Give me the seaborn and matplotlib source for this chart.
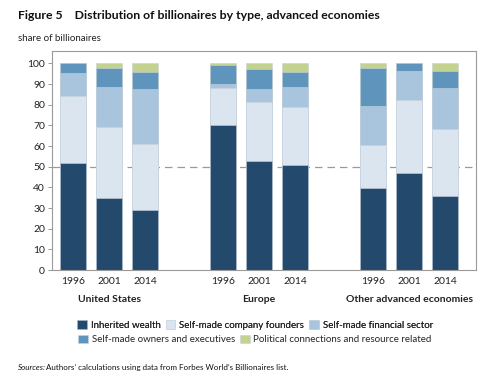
import seaborn as sns
import matplotlib.pyplot as plt
import numpy as np
import pandas as pd

# data (shares, percent)
groups = ["United States", "Europe", "Other advanced economies"]
years = ["1996", "2001", "2014"]
categories = ["Inherited wealth", "Self-made company founders", "Self-made financial sector",
              "Self-made owners and executives", "Political connections and resource related"]
inherited = [52, 35, 29, 70, 53, 51, 39.5, 47, 35.7]
founders = [32, 34, 32, 18, 28.5, 27.7, 21, 35.3, 32.6]
financial = [11.5, 19.5, 26.6, 2, 6.3, 9.8, 19, 13.8, 19.6]
owners = [4.5, 9.5, 8.2, 9, 9.3, 7.1, 18.5, 3.9, 8.6]
political = [0, 2, 4.2, 1, 2.9, 4.4, 2, 0, 3.5]

colors = ["#23496d", "#dae5ef", "#a8c5dd", "#5f95bd", "#c3d28e"]

sns.set_style("white")
plt.rcParams["font.family"] = ["Lato", "DejaVu Sans"]

# bar positions: 3 bars per group, gap between groups
pos = [g * 4.1667 + j for g in range(len(groups)) for j in range(len(years))]
series = [inherited, founders, financial, owners, political]
cum = np.cumsum(np.array(series), axis=0)

fig = plt.figure(figsize=(5, 3.75), dpi=100)
ax = fig.add_axes([0.104, 0.28, 0.848, 0.584])

ax.axhline(50, color="#9a9a9a", lw=0.9, ls=(0, (6, 4)), zorder=0.5)

# stacked bars: draw cumulative totals from top category down
for k in range(len(categories) - 1, -1, -1):
    df = pd.DataFrame({"x": pos, "y": cum[k]})
    sns.barplot(data=df, x="x", y="y", native_scale=True, width=0.72,
                color=colors[k], saturation=1, errorbar=None,
                edgecolor="#c8d2dc", linewidth=0.4, ax=ax, zorder=2)

ax.set_xlim(-0.583, 11.19)
ax.set_ylim(0, 106)
ax.set_yticks(range(0, 101, 10))
ax.set_xticks(pos)
ax.set_xticklabels(years * len(groups))
ax.set_xlabel("")
ax.set_ylabel("")
ax.tick_params(axis="x", length=0, labelsize=7.5, pad=5, colors="#222222")
ax.tick_params(axis="y", length=3, width=0.6, labelsize=7.5, pad=2,
               colors="#222222", left=True, direction="out", color="#888888")
for s in ax.spines.values():
    s.set_color("#9a9a9a")
    s.set_linewidth(0.8)

for g, name in enumerate(groups):
    ax.text(g * 4.1667 + 1, -0.135, name, transform=ax.get_xaxis_transform(),
            ha="center", va="center", fontsize=7.5, fontweight="bold", color="#222222")

fig.text(0.036, 0.958, "Figure 5    Distribution of billionaires by type, advanced economies",
         fontsize=8.8, fontweight="bold", va="center", color="#111111")
fig.text(0.036, 0.898, "share of billionaires", fontsize=7, va="center", color="#222222")

handles = [plt.Rectangle((0, 0), 1, 1, fc=c, ec="#c8d2dc", lw=0.4) for c in colors]
leg1 = fig.legend(handles[:3], categories[:3], ncol=3, loc="center",
                  bbox_to_anchor=(0.51, 0.134), frameon=False, fontsize=7,
                  handlelength=1.0, handleheight=1.0, handletextpad=0.4,
                  columnspacing=0.5, borderpad=0)
fig.legend(handles[3:], categories[3:], ncol=2, loc="center",
           bbox_to_anchor=(0.51, 0.095), frameon=False, fontsize=7,
           handlelength=1.0, handleheight=1.0, handletextpad=0.4,
           columnspacing=0.5, borderpad=0)
fig.add_artist(leg1)

fig.text(0.036, 0.02, "Sources:", fontsize=5.8, style="italic", va="center", color="#111111")
fig.text(0.036 + 0.055, 0.02, "Authors’ calculations using data from Forbes World’s Billionaires list.",
         fontsize=5.8, va="center", color="#111111")

fig.savefig("out.png", dpi=100)
